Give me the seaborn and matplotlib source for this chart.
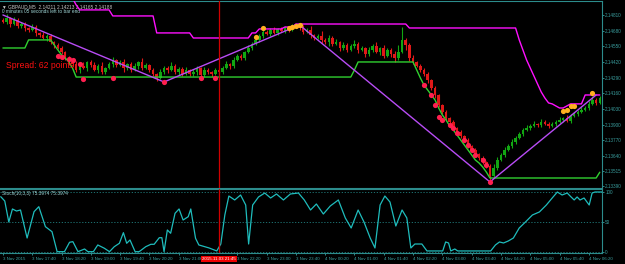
import numpy as np
import pandas as pd
import matplotlib
matplotlib.use("Agg")
import matplotlib.pyplot as plt
import matplotlib.transforms as mtransforms
import seaborn as sns

# ---------------- data ----------------
first_open = 2.14769
closes = [
    2.14752, 2.14785, 2.14735, 2.14769, 2.14719, 2.14735, 2.14702, 2.14686, 2.14710, 2.14661,
    2.14644, 2.14619, 2.14636, 2.14586, 2.14561, 2.14536, 2.14503, 2.14453, 2.14420, 2.14403,
    2.14354, 2.14387, 2.14370, 2.14420, 2.14395, 2.14354, 2.14387, 2.14337, 2.14370, 2.14403,
    2.14437, 2.14395, 2.14420, 2.14370, 2.14403, 2.14354, 2.14387, 2.14420, 2.14370, 2.14395,
    2.14354, 2.14320, 2.14287, 2.14337, 2.14370, 2.14354, 2.14387, 2.14337, 2.14362, 2.14320,
    2.14354, 2.14320, 2.14337, 2.14370, 2.14312, 2.14354, 2.14337, 2.14320, 2.14354, 2.14337,
    2.14370, 2.14403, 2.14387, 2.14437, 2.14470, 2.14453, 2.14503, 2.14536, 2.14569, 2.14603,
    2.14636, 2.14669, 2.14652, 2.14686, 2.14661, 2.14694, 2.14677, 2.14702, 2.14686, 2.14710,
    2.14719, 2.14702, 2.14669, 2.14686, 2.14644, 2.14619, 2.14636, 2.14603, 2.14586, 2.14619,
    2.14569, 2.14586, 2.14536, 2.14561, 2.14520, 2.14553, 2.14569, 2.14520, 2.14536, 2.14486,
    2.14520, 2.14553, 2.14503, 2.14536, 2.14470, 2.14520, 2.14486, 2.14453, 2.14503, 2.14603,
    2.14561, 2.14453, 2.14420, 2.14387, 2.14354, 2.14320, 2.14271, 2.14204, 2.14146, 2.14063,
    2.14005, 2.13955, 2.13922, 2.13872, 2.13839, 2.13806, 2.13773, 2.13723, 2.13690, 2.13656,
    2.13623, 2.13590, 2.13557, 2.13474, 2.13540, 2.13607, 2.13648, 2.13690, 2.13723, 2.13756,
    2.13789, 2.13822, 2.13856, 2.13872, 2.13889, 2.13905, 2.13897, 2.13922, 2.13905, 2.13889,
    2.13905, 2.13922, 2.13939, 2.13955, 2.13930, 2.13972, 2.13988, 2.14005, 2.14022, 2.14038,
    2.14071, 2.14105, 2.14080, 2.14121,
]
# wick lengths in points (1 point = 0.00001)
wick_up = [
    15, 30, 10, 25, 12, 20, 18, 8, 22, 14, 10, 26, 12, 18, 9, 14, 20, 11, 16, 8,
    24, 12, 30, 10, 18, 22, 14, 35, 12, 20, 26, 10, 16, 28, 12, 18, 24, 10, 30, 14,
    12, 20, 8, 26, 18, 14, 30, 12, 20, 16, 22, 10, 28, 14, 12, 24, 18, 10, 20, 16,
    14, 22, 12, 26, 18, 20, 10, 24, 16, 28, 12, 30, 18, 14, 26, 10, 20, 16, 12, 22,
    18, 10, 24, 14, 30, 12, 20, 40, 16, 26, 14, 22, 10, 28, 18, 12, 36, 14, 20, 10,
    24, 16, 30, 12, 22, 18, 14, 26, 60, 110, 20, 14, 22, 10, 18, 12, 16, 10, 14, 12,
    10, 16, 12, 18, 10, 14, 12, 20, 10, 16, 12, 14, 10, 18, 30, 26, 20, 24, 18, 22,
    16, 20, 14, 26, 18, 22, 12, 24, 16, 20, 14, 18, 22, 12, 26, 16, 20, 14, 24, 18,
    22, 30, 16, 20,
]
wick_dn = [
    12, 18, 26, 10, 20, 14, 24, 16, 12, 28, 18, 10, 22, 14, 26, 12, 20, 16, 24, 18,
    14, 26, 10, 22, 16, 12, 28, 14, 20, 10, 24, 16, 12, 30, 18, 14, 10, 22, 16, 12,
    20, 14, 26, 12, 18, 22, 10, 16, 24, 14, 12, 20, 16, 28, 10, 18, 14, 22, 12, 20,
    16, 10, 22, 14, 12, 18, 20, 12, 16, 10, 14, 18, 12, 20, 10, 16, 12, 14, 18, 10,
    12, 20, 16, 10, 24, 18, 12, 22, 14, 30, 16, 10, 26, 14, 20, 12, 18, 24, 10, 28,
    14, 20, 12, 26, 18, 10, 22, 30, 14, 12, 40, 24, 16, 12, 20, 14, 26, 18, 24, 16,
    20, 14, 22, 18, 26, 16, 20, 14, 18, 24, 16, 20, 14, 30, 12, 18, 10, 14, 12, 16,
    18, 12, 14, 10, 16, 12, 20, 14, 10, 16, 12, 14, 10, 18, 12, 16, 10, 14, 12, 10,
    14, 12, 16, 10,
]
upper_channel = ([2.14950] * 20 + [2.14893] + [2.14852] * 9 + [2.14802] * 12 + [2.14661] * 10
                 + [2.14619] * 16 + [2.14661] * 2 + [2.14694] * 7 + [2.14710] * 3 + [2.14735] * 31
                 + [2.14702] * 30
                 + [2.14603, 2.14520, 2.14437, 2.14370, 2.14304, 2.14238, 2.14171, 2.14121, 2.14080]
                 + [2.14072, 2.14055, 2.14038, 2.14038, 2.14055, 2.14072, 2.14072, 2.14072, 2.14072]
                 + [2.14146] * 5)
lower_channel = ([2.14536] * 7 + [2.14603] * 7
                 + [2.14561, 2.14520, 2.14478, 2.14453, 2.14420, 2.14370]
                 + [2.14295] * 76 + [2.14354] + [2.14420] * 16
                 + [2.14354, 2.14287, 2.14228, 2.14187, 2.14146]
                 + [2.14105, 2.14038, 2.13980, 2.13939, 2.13889, 2.13855, 2.13814, 2.13773,
                    2.13731, 2.13690, 2.13648, 2.13607, 2.13582, 2.13549, 2.13507]
                 + [2.13457] * 30 + [2.13505])
zigzag_bar = [0, 44, 81, 133, 162]
zigzag_price = [2.14810, 2.14254, 2.14727, 2.13424, 2.14146]
high_dot_bar = [69, 71, 78, 79, 80, 81, 153, 154, 155, 156, 161]
high_dot_price = [2.14627, 2.14702, 2.14702, 2.14710, 2.14719, 2.14727,
                  2.14013, 2.14022, 2.14055, 2.14055, 2.14163]
low_dot_bar = [15, 16, 18, 19, 21, 22, 30, 44, 54, 58, 115, 117, 118, 119, 120, 122, 123,
               124, 126, 127, 128, 129, 131, 132, 133]
low_dot_price = [2.14470, 2.14462, 2.14445, 2.14437, 2.14403, 2.14279, 2.14287, 2.14254,
                 2.14287, 2.14287, 2.14229, 2.14146, 2.14063, 2.13964, 2.13939, 2.13897,
                 2.13872, 2.13831, 2.13773, 2.13731, 2.13690, 2.13648, 2.13607, 2.13565,
                 2.13424]
stoch_bar = [-0.6, 0.5, 1.6, 2.6, 3.7, 4.8, 6.6, 8.5, 9.8, 11.6, 13.4, 14.8, 16.8, 18.2, 19.1,
             20.5, 22.3, 23.2, 24.7, 25.9, 27.7, 29.1, 30.4, 31.8, 32.9, 33.8, 34.7, 36.1,
             37.2, 39.0, 40.4, 41.3, 42.7, 43.4, 44.0, 44.9, 45.8, 47.0, 48.1, 49.2, 50.6,
             51.3, 52.6, 53.5, 56.3, 58.4, 59.5, 60.6, 61.7, 63.3, 64.9, 66.3, 67.1, 68.2,
             69.8, 71.5, 73.1, 74.7, 76.6, 78.5, 80.7, 82.3, 84.0, 85.6, 87.5, 89.4, 91.6,
             93.5, 95.1, 97.0, 98.6, 100.3, 101.6, 103.0, 104.3, 105.7, 107.3, 109.0, 110.3,
             111.4, 112.5, 114.4, 115.8, 120.1, 120.9, 121.7, 122.3, 123.4, 124.2, 133.2,
             134.5, 135.6, 136.7, 138.0, 139.4, 141.0, 142.7, 144.6, 146.5, 148.4, 150.0,
             151.4, 152.7, 154.1, 154.9, 156.0, 156.8, 157.6, 158.7, 160.1, 160.9, 161.7, 163.6]
stoch_val = [92.2, 85, 50, 71.7, 68.3, 70, 23.3, 67.2, 75.5, 42.2, 33.8, 0.5, 0.5, 16.2, 17.2,
             0.5, 5, 0.5, 0.5, 11.7, 6.2, 0.5, 8.8, 14.5, 32.2, 14.5, 20, 0.5,
             0.5, 8.8, 12.8, 12.8, 23.8, 23.8, 0.5, 36.7, 31.2, 64.5, 71.7, 53.3, 58.8,
             71.7, 22.8, 11.7, 6.7, 1.7, 13.3, 61.7, 93.3, 86.7, 95, 78.3, 13.3, 78.3,
             91.7, 98.3, 90, 96.7, 86.7, 96.7, 98.3, 86.7, 70, 80, 63.3, 76.7, 86.7,
             56.7, 40, 70, 50, 23.3, 6.7, 78.3, 93.3, 83.3, 43.3, 70, 56.7,
             6.7, 13.3, 13.3, 1.7, 1.7, 16.7, 15, 1.7, 5, 1.7, 1.7,
             11.7, 16.7, 15, 18.3, 23.3, 40, 50, 61.7, 66.7, 78.3, 90,
             100, 95, 98.3, 93.3, 86.7, 91.7, 86.7, 90, 78.3, 98.3, 100, 100]
price_ticks = [2.14810, 2.14680, 2.14550, 2.14420, 2.14290, 2.14160, 2.14030,
               2.13900, 2.13770, 2.13640, 2.13515, 2.13390]
price_labels = ["2.14810", "2.14680", "2.14550", "2.14420", "2.14290", "2.14160", "2.14030",
                "2.13900", "2.13770", "2.13640", "2.13515", "2.13390"]
time_tick_bar = [0, 8, 16, 24, 32, 40, 48, 64, 72, 80, 88, 96, 104, 112, 120, 128, 136, 144, 152, 160]
time_labels = ["3 Nov 2015", "3 Nov 17:40", "3 Nov 18:20", "3 Nov 19:00", "3 Nov 19:40",
               "3 Nov 20:20", "3 Nov 21:00", "3 Nov 22:20", "3 Nov 23:00", "3 Nov 23:40",
               "4 Nov 00:20", "4 Nov 01:00", "4 Nov 01:40", "4 Nov 02:20", "4 Nov 03:00",
               "4 Nov 03:40", "4 Nov 04:20", "4 Nov 05:00", "4 Nov 05:40", "4 Nov 06:20"]
marker_bar = 59
marker_label = "2015.11.03 21:45"

# ---------------- style ----------------
sns.set_theme(style="dark")
plt.rcParams["font.family"] = ["Liberation Sans", "DejaVu Sans"]
BG = "black"
FG = "#3a9f9f"
FRAME = "#2c8c8c"

fig = plt.figure(figsize=(6.25, 2.64), dpi=100, facecolor=BG)
ax = fig.add_axes([0.0, 76 / 264, 602 / 625, 187 / 264])
ax2 = fig.add_axes([0.0, 11 / 264, 602 / 625, 64 / 264], sharex=ax)
for a in (ax, ax2):
    a.set_facecolor(BG)
    a.grid(False)
    for s in a.spines.values():
        s.set_color(FRAME)
        s.set_linewidth(0.8)
    a.spines["left"].set_visible(False)

# ---------------- candles ----------------
n = len(closes)
bars = np.arange(n)
opens = [first_open] + closes[:-1]
df = pd.DataFrame({"bar": bars, "open": opens, "close": closes,
                   "wu": wick_up, "wd": wick_dn})
df["hi"] = df[["open", "close"]].max(axis=1) + df["wu"] * 1e-5
df["lo"] = df[["open", "close"]].min(axis=1) - df["wd"] * 1e-5
up = df["close"] >= df["open"]
GREEN = "#12a612"
RED = "#e01818"
colors = np.where(up, GREEN, RED)
ax.vlines(df["bar"], df["lo"], df["hi"], colors=colors, linewidth=0.8, zorder=2)
body = (df["close"] - df["open"]).abs().clip(lower=0.00003)
ax.bar(df["bar"], body, bottom=df[["open", "close"]].min(axis=1), width=0.7,
       color=colors, linewidth=0, zorder=3)

# ---------------- indicator lines ----------------
chan = pd.DataFrame({"bar": bars, "upper": upper_channel, "lower": lower_channel})
sns.lineplot(data=chan, x="bar", y="upper", ax=ax, color="#ff10ff", linewidth=1.0,
             sort=False, zorder=4)
sns.lineplot(data=chan, x="bar", y="lower", ax=ax, color="#30d030", linewidth=1.0,
             sort=False, zorder=4)
sns.lineplot(x=zigzag_bar, y=zigzag_price, ax=ax, color="#b84cf5", linewidth=1.0,
             sort=False, zorder=5)
sns.scatterplot(x=high_dot_bar, y=high_dot_price, ax=ax, color="#ffb020", s=14,
                linewidth=0, zorder=6)
sns.scatterplot(x=low_dot_bar, y=low_dot_price, ax=ax, color="#ff1f4f", s=14,
                linewidth=0, zorder=6)

ax.axvline(marker_bar, color="#d00000", linewidth=0.9, zorder=7)
ax2.axvline(marker_bar, color="#d00000", linewidth=0.9, zorder=7)

ax.set_ylim(2.13374, 2.14926)
ax.set_xlim(-0.8, 163.6)
ax.yaxis.tick_right()
ax.set_yticks(price_ticks)
ax.set_yticklabels(price_labels)
ax.tick_params(axis="y", colors=FG, labelsize=3.3, length=1.5, width=0.6, pad=0.8,
               right=True, left=False)
ax.tick_params(axis="x", bottom=False, labelbottom=False)
ax.set_xlabel("")
ax.set_ylabel("")

ax.text(0.010, 0.655, "Spread: 62 points.", transform=ax.transAxes, color="#ff1010",
        fontsize=6.2, va="center", ha="left", zorder=8)
ax.text(0.004, 0.985, "\u25bc GBPAUD,M5  2.14211 2.14213 2.14165 2.14188",
        transform=ax.transAxes, color="#c8c8c8", fontsize=3.4, va="top", ha="left")
ax.text(0.004, 0.955, "0 minutes 05 seconds left to bar end",
        transform=ax.transAxes, color="#9fd6d6", fontsize=3.4, va="top", ha="left")

# ---------------- stochastic panel ----------------
sns.lineplot(x=stoch_bar, y=stoch_val, ax=ax2, color="#1fbcbc", linewidth=0.9,
             sort=False, zorder=4)
for lvl in (100, 50, 0):
    ax2.axhline(lvl, color="#217f7f", linewidth=0.6, linestyle=(0, (1.5, 2)), zorder=1)
ax2.set_ylim(-1.7, 105)
ax2.yaxis.tick_right()
ax2.set_yticks([100, 50, 0])
ax2.set_yticklabels(["100", "50", "0"])
ax2.tick_params(axis="y", colors=FG, labelsize=3.3, length=1.5, width=0.6, pad=0.8,
                right=True, left=False)
ax2.set_xticks(time_tick_bar)
ax2.set_xticklabels(time_labels, ha="left")
ax2.tick_params(axis="x", colors=FG, labelsize=3.2, length=1.5, width=0.6, pad=1.5,
                bottom=True)
ax2.set_xlabel("")
ax2.set_ylabel("")
ax2.text(0.004, 0.97, "Stoch(10,3,3) 75.3974 75.3974", transform=ax2.transAxes,
         color="#9fd6d6", fontsize=3.4, va="top", ha="left")
trans = mtransforms.blended_transform_factory(ax2.transData, ax2.transAxes)
ax2.text(marker_bar, -0.06, marker_label, transform=trans, color="white", fontsize=3.2,
         ha="center", va="top", zorder=9, clip_on=False,
         bbox=dict(boxstyle="square,pad=0.3", facecolor="#ee0000", edgecolor="none"))

fig.savefig("out.png", dpi=100, facecolor=BG)
